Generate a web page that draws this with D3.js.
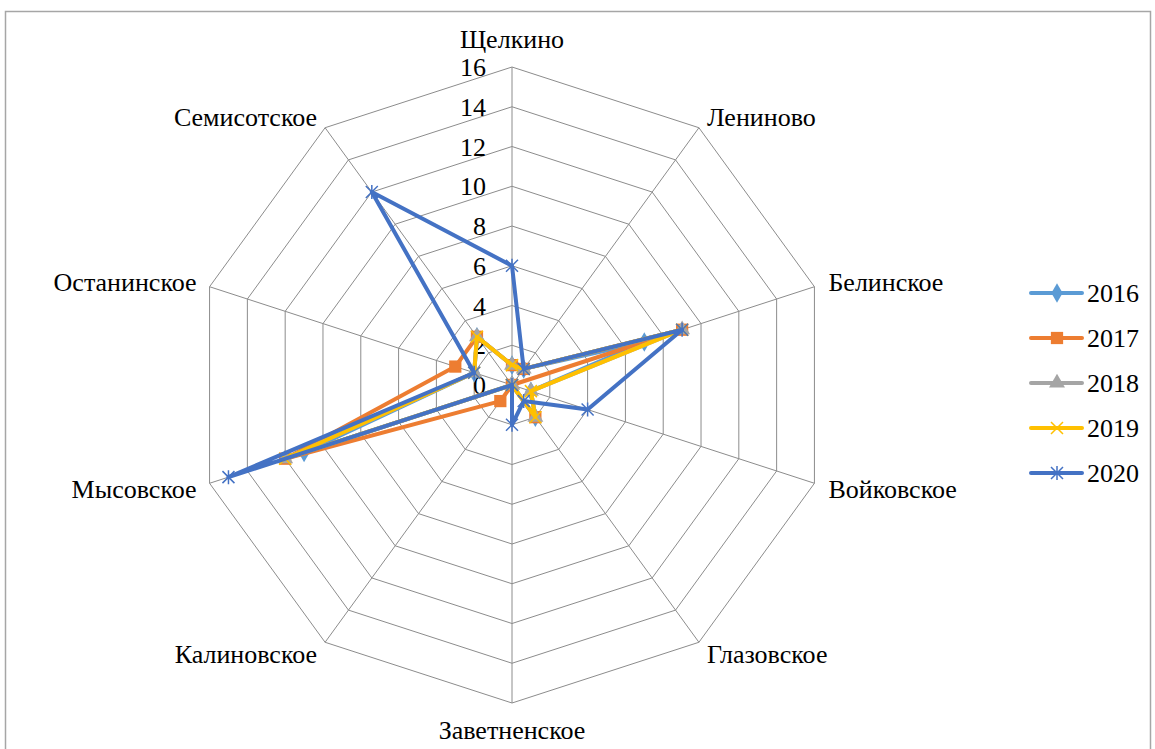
<!DOCTYPE html>
<html>
<head>
<meta charset="utf-8">
<script src="https://cdn.jsdelivr.net/npm/d3@7"></script>
<style>
  body { margin: 0; background: #fff; }
  svg text { font-family: "Liberation Serif", "Times New Roman", serif; fill: #000; }
</style>
</head>
<body>
<svg width="1155" height="749"></svg>
<script>
// categories (clockwise from top)
const categories = ['Щелкино', 'Лениново', 'Белинское', 'Войковское', 'Глазовское',
  'Заветненское', 'Калиновское', 'Мысовское', 'Останинское', 'Семисотское'];
const years = ['2016', '2017', '2018', '2019', '2020'];
const v2016 = [1, 1, 7, 1, 2, 0, 0, 11, 2, 3];
const v2017 = [1, 1, 9, 0, 2, 0, 1, 12, 3, 3];
const v2018 = [1, 1, 9, 1, 2, 0, 0, 12, 2, 3];
const v2019 = [1, 1, 9, 1, 2, 0, 0, 12, 2, 3];
const v2020 = [6, 1, 9, 4, 1, 2, 0, 15, 2, 12];
const ticks = [0, 2, 4, 6, 8, 10, 12, 14, 16];

const series = [
  { name: years[0], values: v2016, color: '#5B9BD5', mark: 'diamond' },
  { name: years[1], values: v2017, color: '#ED7D31', mark: 'square' },
  { name: years[2], values: v2018, color: '#A5A5A5', mark: 'triangle' },
  { name: years[3], values: v2019, color: '#FFC000', mark: 'x' },
  { name: years[4], values: v2020, color: '#4472C4', mark: 'star' }
];

const svg = d3.select('svg');
const cx = 512, cy = 385;
const fs = '26px';

// chart frame
svg.append('rect')
  .attr('x', 5.5).attr('y', 11.5)
  .attr('width', 1145).attr('height', 760)
  .attr('fill', 'none').attr('stroke', '#A6A6A6').attr('stroke-width', 1.5);

const r = d3.scaleLinear().domain([0, 16]).range([0, 318]);
const angle = i => i * 2 * Math.PI / categories.length;
const pt = (i, v) => [cx + r(v) * Math.sin(angle(i)), cy - r(v) * Math.cos(angle(i))];

const g = svg.append('g');

// grid rings
ticks.filter(t => t > 0).forEach(t => {
  g.append('polygon')
    .attr('points', categories.map((c, i) => pt(i, t).join(',')).join(' '))
    .attr('fill', 'none').attr('stroke', '#8C8C8C').attr('stroke-width', 1);
});
// spokes
categories.forEach((c, i) => {
  const [x, y] = pt(i, 16);
  g.append('line').attr('x1', cx).attr('y1', cy).attr('x2', x).attr('y2', y)
    .attr('stroke', '#8C8C8C').attr('stroke-width', 1);
});

// tick labels
g.selectAll('.tick').data(ticks).enter().append('text')
  .attr('x', 486).attr('y', d => cy - r(d))
  .attr('dy', '0.35em').attr('text-anchor', 'end')
  .style('font-size', fs).text(d => d);

// category labels
categories.forEach((c, i) => {
  const [x, y] = pt(i, 16);
  const s = Math.sin(angle(i)), co = Math.cos(angle(i));
  let anchor = 'middle', lx = x, ly = y;
  if (Math.abs(s) < 0.01) {
    ly = co > 0 ? y - 28 : y + 27;
  } else if (s > 0) {
    anchor = 'start'; lx = x + (Math.abs(co) > 0.5 ? 8 : 14);
    ly = y + (co > 0.5 ? -11 : co > 0 ? -5 : co > -0.5 ? 6 : 12);
  } else {
    anchor = 'end'; lx = x - (Math.abs(co) > 0.5 ? 8 : 13);
    ly = y + (co > 0.5 ? -11 : co > 0 ? -5 : co > -0.5 ? 6 : 12);
  }
  g.append('text').attr('x', lx).attr('y', ly).attr('dy', '0.35em')
    .attr('text-anchor', anchor).style('font-size', fs).text(c);
});

const line = d3.lineRadial()
  .angle((d, i) => angle(i))
  .radius(d => r(d))
  .curve(d3.curveLinearClosed);

function marker(sel, type, color) {
  if (type === 'diamond') {
    sel.append('path').attr('d', d3.symbol(d3.symbolDiamond, 110)()).attr('fill', color);
  } else if (type === 'square') {
    sel.append('path').attr('d', d3.symbol(d3.symbolSquare, 150)()).attr('fill', color);
  } else if (type === 'triangle') {
    sel.append('path').attr('d', d3.symbol(d3.symbolTriangle, 110)()).attr('fill', color);
  } else if (type === 'x') {
    sel.append('path').attr('d', 'M-6,-6L6,6M-6,6L6,-6')
      .attr('stroke', color).attr('stroke-width', 1.5).attr('fill', 'none');
  } else {
    sel.append('path').attr('d', 'M-6,-6L6,6M-6,6L6,-6M0,-7L0,7')
      .attr('stroke', color).attr('stroke-width', 1.5).attr('fill', 'none');
  }
}

series.forEach(s => {
  const sg = g.append('g');
  sg.append('path').datum(s.values)
    .attr('d', line).attr('transform', `translate(${cx},${cy})`)
    .attr('fill', 'none').attr('stroke', s.color)
    .attr('stroke-width', 4).attr('stroke-linejoin', 'round');
  sg.selectAll('.m').data(s.values).enter().append('g')
    .attr('transform', (d, i) => `translate(${pt(i, d).join(',')})`)
    .each(function () { marker(d3.select(this), s.mark, s.color); });
});

// legend
const legendY = d3.scalePoint().domain(years).range([293, 473]);
const lg = svg.append('g');
series.forEach(s => {
  const y = legendY(s.name);
  lg.append('line').attr('x1', 1031).attr('x2', 1082).attr('y1', y).attr('y2', y)
    .attr('stroke', s.color).attr('stroke-width', 4).attr('stroke-linecap', 'round');
  const m = lg.append('g').attr('transform', `translate(1057,${y})`);
  marker(m, s.mark, s.color);
  lg.append('text').attr('x', 1087).attr('y', y).attr('dy', '0.35em')
    .style('font-size', fs).text(s.name);
});
</script>
</body>
</html>
